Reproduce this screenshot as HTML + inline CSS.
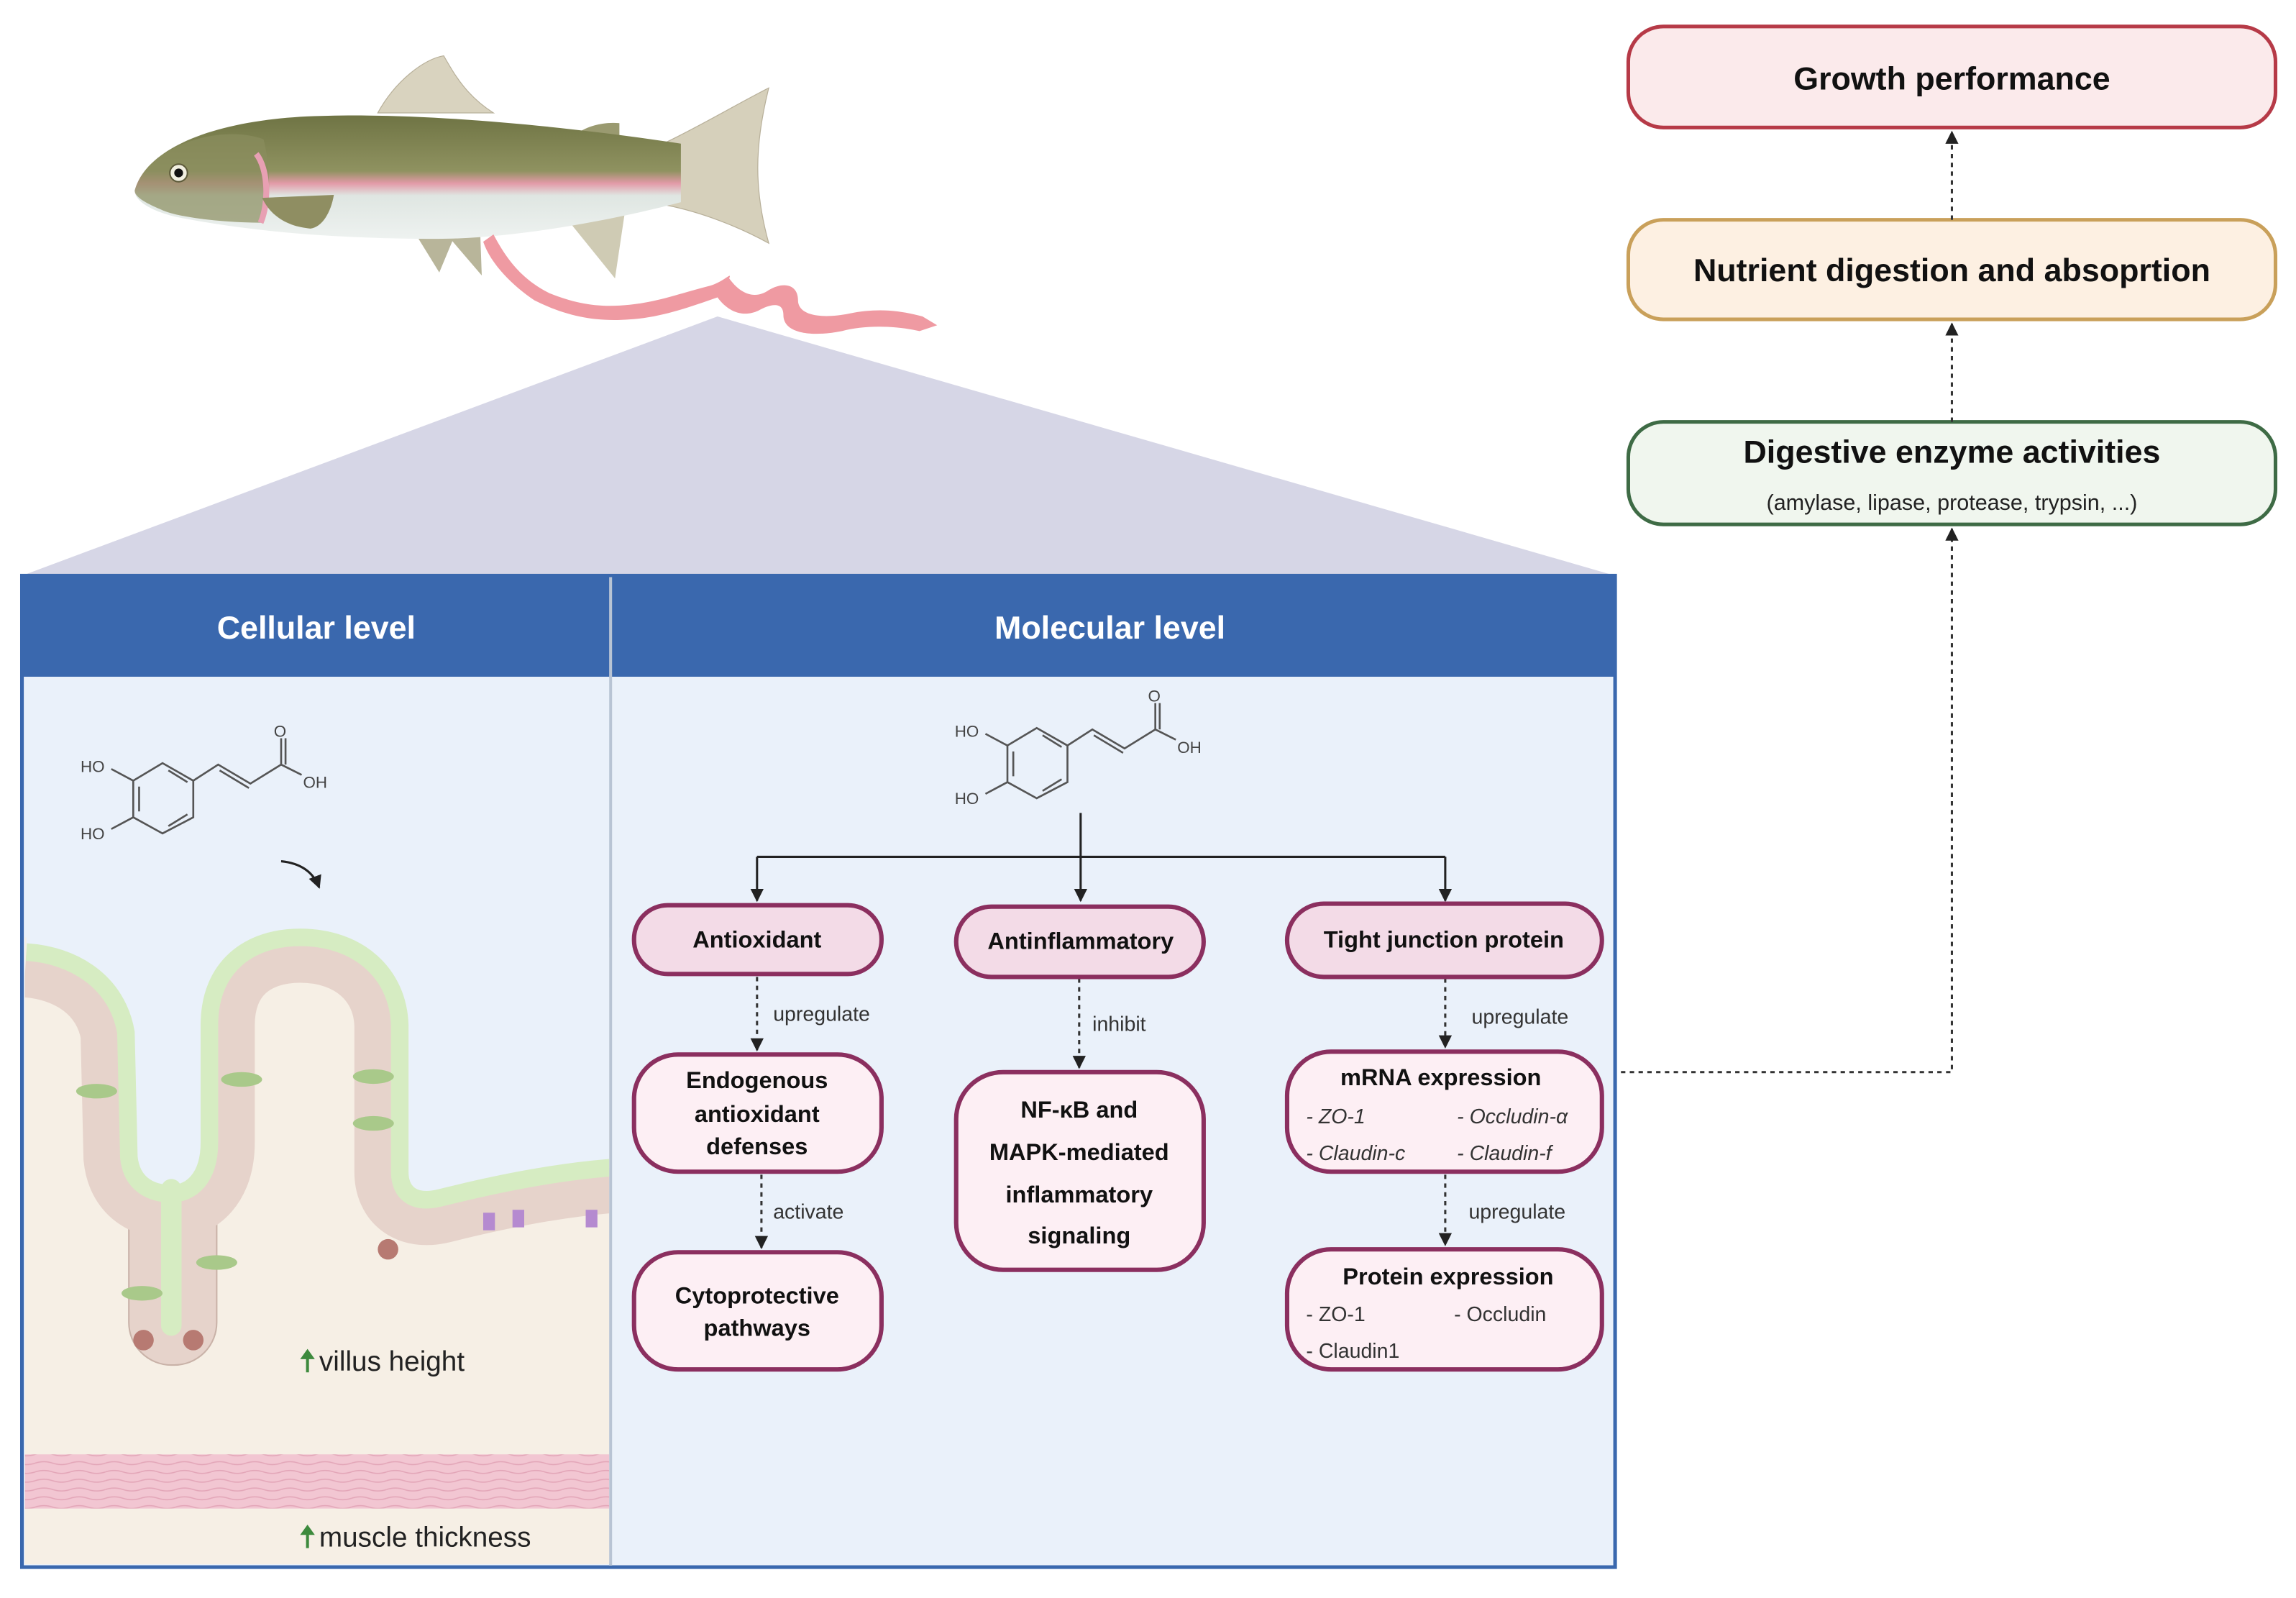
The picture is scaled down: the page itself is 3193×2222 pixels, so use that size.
<!DOCTYPE html>
<html><head><meta charset="utf-8"><style>
html,body{margin:0;padding:0;background:#fff;}
svg{display:block;}
text{font-family:"Liberation Sans",sans-serif;}
</style></head><body>
<svg width="3193" height="2222" viewBox="0 0 1568 1091" xmlns="http://www.w3.org/2000/svg">
<defs>
<marker id="ah" viewBox="0 0 10 10" refX="9" refY="5" markerWidth="6" markerHeight="6" orient="auto"><path d="M0,0 L10,5 L0,10 Z" fill="#222"/></marker>
<linearGradient id="fb" x1="0" y1="0" x2="0" y2="1">
<stop offset="0" stop-color="#6f7444"/><stop offset="0.45" stop-color="#8f9260"/><stop offset="0.55" stop-color="#e39aa8"/><stop offset="0.65" stop-color="#dfe6e2"/><stop offset="1" stop-color="#eef2f0"/></linearGradient>
<pattern id="mus" width="24" height="6" patternUnits="userSpaceOnUse"><rect width="24" height="6" fill="#f2c6d2"/><path d="M0,3 Q6,1 12,3 T24,3" stroke="#e3a6b8" stroke-width="0.8" fill="none"/></pattern>
</defs>

<!-- triangle -->
<polygon points="490,216 15,393 1103,393" fill="#d6d6e6"/>

<!-- fish -->
<path d="M258,77 C270,55 290,40 303,38 C310,50 318,65 337,77 Z" fill="#d9d3bf" stroke="#b8b09a" stroke-width="0.6"/>
<path d="M455,97 C480,85 505,70 525,60 C515,100 515,130 525,166 C505,155 480,145 455,140 Z" fill="#d6d0bb" stroke="#b8b09a" stroke-width="0.6"/>
<path d="M393,92 C400,86 412,83 423,84 L423,96 Z" fill="#9a9a70"/>
<path d="M284,160 L300,186 L310,162 Z M305,160 L329,188 L328,160 Z" fill="#b8b59a"/>
<path d="M382,143 L420,190 L427,143 Z" fill="#cfcbb4"/>
<path d="M92,130 C100,100 150,80 224,79 C300,77 400,88 465,98 L465,138 C420,150 350,163 299,163 C230,163 170,158 120,148 C100,143 92,136 92,130 Z" fill="url(#fb)"/>
<path d="M92,130 C100,100 150,84 180,95 C185,115 185,140 180,152 C150,152 120,148 110,143 C98,138 92,134 92,130 Z" fill="#8a8d5e" opacity="0.7"/>
<path d="M175,105 C183,115 184,138 178,152" stroke="#e8a0b3" stroke-width="4" fill="none"/>
<circle cx="122" cy="118" r="6" fill="#f1efe0" stroke="#5d5a3a" stroke-width="1"/><circle cx="122" cy="118" r="3" fill="#111"/>
<path d="M179,135 L228,133 C226,145 220,155 212,156 C200,155 186,150 179,135 Z" fill="#8f8e62"/>
<path d="M337,160 C345,175 355,190 375,200 C395,208 410,210 430,208 C450,206 465,200 485,195 C495,192 500,185 498,190 C505,200 515,205 525,198 C535,192 545,194 545,205 C545,215 560,218 580,214 C600,210 615,212 630,216 L640,222 L628,226 C610,222 590,222 575,226 C555,230 535,228 535,215 C535,205 525,208 518,212 C505,218 495,210 490,203 C470,210 450,217 430,218 C405,220 385,215 365,205 C350,195 335,180 330,165 Z" fill="#ef9aa2"/>

<!-- right boxes -->
<rect x="1112" y="18" width="442" height="69" rx="24" fill="#fbeaeb" stroke="#b63a47" stroke-width="2.5"/>
<text x="1333" y="61" font-size="22" font-weight="bold" text-anchor="middle" fill="#111">Growth performance</text>
<rect x="1112" y="150" width="442" height="68" rx="24" fill="#fdf0e2" stroke="#c9a05a" stroke-width="2.5"/>
<text x="1333" y="192" font-size="22" font-weight="bold" text-anchor="middle" fill="#111">Nutrient digestion and absoprtion</text>
<rect x="1112" y="288" width="442" height="70" rx="24" fill="#f0f6ee" stroke="#3e6b45" stroke-width="2.5"/>
<text x="1333" y="316" font-size="22" font-weight="bold" text-anchor="middle" fill="#111">Digestive enzyme activities</text>
<text x="1333" y="348" font-size="15" text-anchor="middle" fill="#222">(amylase, lipase, protease, trypsin, ...)</text>
<g stroke="#333" stroke-width="1.5" stroke-dasharray="3,3" fill="none">
<path d="M1333,150 L1333,90" marker-end="url(#ah)"/>
<path d="M1333,288 L1333,221" marker-end="url(#ah)"/>
<path d="M1095,732 L1333,732 L1333,361" marker-end="url(#ah)"/>
</g>

<!-- main panel -->
<rect x="15" y="393" width="1088" height="677" fill="#eaf1fa" stroke="#3a68ae" stroke-width="2.5"/>
<rect x="16" y="394" width="1086" height="68" fill="#3a68ae"/>
<line x1="417" y1="394" x2="417" y2="1069" stroke="#b8c4d4" stroke-width="2"/>
<text x="216" y="436" font-size="22" font-weight="bold" text-anchor="middle" fill="#fff">Cellular level</text>
<text x="758" y="436" font-size="22" font-weight="bold" text-anchor="middle" fill="#fff">Molecular level</text>

<!-- intestine tissue -->
<clipPath id="lc"><rect x="17" y="463" width="399" height="605"/></clipPath>
<g clip-path="url(#lc)">
<rect x="17" y="640" width="400" height="430" fill="#f6efe5"/>
<rect x="17" y="993" width="400" height="37" fill="url(#mus)"/>
<rect x="88" y="780" width="60" height="152" rx="29" fill="#e6d3cb" stroke="#c9b2a8" stroke-width="1"/>
<path d="M18,650 C50,652 80,670 86,705 L88,790 C90,810 105,815 117,815 C130,815 143,805 143,780 L143,700 C143,660 170,640 205,640 C245,640 272,665 273,700 L273,800 C273,815 283,822 300,818 C340,808 380,800 420,797" fill="none" stroke="#e6d3cb" stroke-width="62"/>
<path d="M18,650 C50,652 80,670 86,705 L88,790 C90,810 105,815 117,815 C130,815 143,805 143,780 L143,700 C143,660 170,640 205,640 C245,640 272,665 273,700 L273,800 C273,815 283,822 300,818 C340,808 380,800 420,797 L420,463 L18,463 Z" fill="#eaf1fa"/>
<path d="M18,650 C50,652 80,670 86,705 L88,790 C90,810 105,815 117,815 C130,815 143,805 143,780 L143,700 C143,660 170,640 205,640 C245,640 272,665 273,700 L273,800 C273,815 283,822 300,818 C340,808 380,800 420,797" fill="none" stroke="#d6ecc2" stroke-width="12"/>
<line x1="117" y1="812" x2="117" y2="905" stroke="#d6ecc2" stroke-width="14" stroke-linecap="round"/>
<g fill="#a9c98a"><ellipse cx="66" cy="745" rx="14" ry="5"/><ellipse cx="165" cy="737" rx="14" ry="5"/><ellipse cx="255" cy="735" rx="14" ry="5"/><ellipse cx="255" cy="767" rx="14" ry="5"/><ellipse cx="97" cy="883" rx="14" ry="5"/><ellipse cx="148" cy="862" rx="14" ry="5"/></g>
<g fill="#b77a72"><circle cx="98" cy="915" r="7"/><circle cx="132" cy="915" r="7"/><circle cx="265" cy="853" r="7"/></g>
<g fill="#b58ad0"><rect x="330" y="828" width="8" height="12"/><rect x="350" y="826" width="8" height="12"/><rect x="400" y="826" width="8" height="12"/></g>
</g>
<text x="218" y="936" font-size="19" fill="#222">villus height</text>
<text x="218" y="1056" font-size="19" fill="#222">muscle thickness</text>
<g fill="#3d8a3d"><path d="M209,937 L209,928 L205,928 L210,921 L215,928 L211,928 L211,937 Z"/><path d="M209,1057 L209,1048 L205,1048 L210,1041 L215,1048 L211,1048 L211,1057 Z"/></g>
<path d="M192,588 Q212,590 218,606" stroke="#222" stroke-width="1.5" fill="none" marker-end="url(#ah)"/>

<!-- molecule (molecular) -->
<g stroke="#555" stroke-width="1.3" fill="none">
<path d="M688,509 L708,497 L729,509 L729,534 L708,545 L688,534 Z"/>
<path d="M692,513 L692,530 M712,502 L725,510 M712,540 L725,532"/>
<path d="M688,509 L673,501 M688,534 L673,542 M729,509 L746,498 L768,511 L789,498 L803,505 M747,502 L767,514 M789,498 L789,480 M792,498 L792,480"/>
</g>
<g font-size="11" fill="#444"><text x="652" y="503">HO</text><text x="652" y="549">HO</text><text x="784" y="479">O</text><text x="804" y="514">OH</text></g>
<g transform="translate(-597,24)">
<g stroke="#555" stroke-width="1.3" fill="none">
<path d="M688,509 L708,497 L729,509 L729,534 L708,545 L688,534 Z"/>
<path d="M692,513 L692,530 M712,502 L725,510 M712,540 L725,532"/>
<path d="M688,509 L673,501 M688,534 L673,542 M729,509 L746,498 L768,511 L789,498 L803,505 M747,502 L767,514 M789,498 L789,480 M792,498 L792,480"/>
</g>
<g font-size="11" fill="#444"><text x="652" y="503">HO</text><text x="652" y="549">HO</text><text x="784" y="479">O</text><text x="804" y="514">OH</text></g>
</g>

<!-- tree connectors -->
<g stroke="#222" stroke-width="1.5" fill="none">
<path d="M738,555 L738,615" marker-end="url(#ah)"/>
<path d="M517,585 L987,585"/>
<path d="M517,585 L517,615" marker-end="url(#ah)"/>
<path d="M987,585 L987,615" marker-end="url(#ah)"/>
</g>
<g stroke="#333" stroke-width="1.5" stroke-dasharray="3,3" fill="none">
<path d="M517,667 L517,717" marker-end="url(#ah)"/>
<path d="M520,802 L520,852" marker-end="url(#ah)"/>
<path d="M737,668 L737,729" marker-end="url(#ah)"/>
<path d="M987,668 L987,715" marker-end="url(#ah)"/>
<path d="M987,802 L987,850" marker-end="url(#ah)"/>
</g>
<g font-size="14" fill="#333">
<text x="528" y="697">upregulate</text>
<text x="746" y="704">inhibit</text>
<text x="1005" y="699">upregulate</text>
<text x="528" y="832">activate</text>
<text x="1003" y="832">upregulate</text>
</g>

<!-- boxes -->
<g stroke="#8b2f5f" stroke-width="3">
<rect x="433" y="618" width="169" height="47" rx="23" fill="#f3dbe7"/>
<rect x="653" y="619" width="169" height="48" rx="24" fill="#f3dbe7"/>
<rect x="879" y="617" width="215" height="50" rx="25" fill="#f3dbe7"/>
<rect x="433" y="720" width="169" height="80" rx="30" fill="#fdeff4"/>
<rect x="433" y="855" width="169" height="80" rx="30" fill="#fdeff4"/>
<rect x="653" y="732" width="169" height="135" rx="32" fill="#fdeff4"/>
<rect x="879" y="718" width="215" height="82" rx="30" fill="#fdeff4"/>
<rect x="879" y="853" width="215" height="82" rx="30" fill="#fdeff4"/>
</g>
<g font-size="16" font-weight="bold" fill="#111" text-anchor="middle">
<text x="517" y="647">Antioxidant</text>
<text x="738" y="648">Antinflammatory</text>
<text x="986" y="647">Tight junction protein</text>
<text x="517" y="743">Endogenous</text>
<text x="517" y="766">antioxidant</text>
<text x="517" y="788">defenses</text>
<text x="517" y="890">Cytoprotective</text>
<text x="517" y="912">pathways</text>
<text x="737" y="763">NF-κB and</text>
<text x="737" y="792">MAPK-mediated</text>
<text x="737" y="821">inflammatory</text>
<text x="737" y="849">signaling</text>
<text x="984" y="741">mRNA expression</text>
<text x="989" y="877">Protein expression</text>
</g>
<g font-size="14" fill="#333">
<g font-style="italic"><text x="892" y="767">- ZO-1</text><text x="995" y="767">- Occludin-α</text><text x="892" y="792">- Claudin-c</text><text x="995" y="792">- Claudin-f</text></g>
<text x="892" y="902">- ZO-1</text><text x="993" y="902">- Occludin</text><text x="892" y="927">- Claudin1</text>
</g>
</svg>
</body></html>
